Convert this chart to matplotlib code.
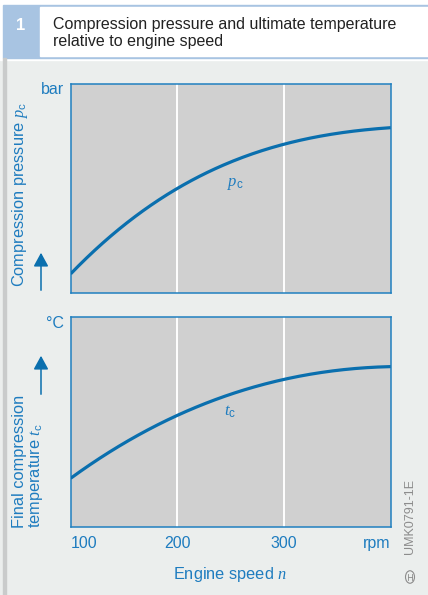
import matplotlib.pyplot as plt
import matplotlib.patches as mpatches
import numpy as np

plt.rcParams["font.family"] = ["Liberation Sans", "DejaVu Sans"]
plt.rcParams["mathtext.fontset"] = "custom"
plt.rcParams["mathtext.it"] = "Liberation Serif:italic"
plt.rcParams["mathtext.rm"] = "Liberation Sans"

# Data (relative scale 0..100, no numeric y ticks)
speed = [100, 146, 200, 252, 300, 349, 400]
pressure = [9.2, 31.1, 50.2, 62.9, 71.1, 76.7, 79.0]
temperature = [23.6, 37.4, 54.2, 63.7, 70.1, 74.4, 76.6]
x_ticks = [100, 200, 300, 400]
x_ticklabels = ["100", "200", "300", "rpm"]

W, H = 428, 595
BLUE = "#0a6fae"
TEXT = "#1e7cbf"
BG = "#ebeeed"
GREY = "#8c8c8c"


def px(x, y):
    # pixel (from top-left) to figure fraction
    return x / W, 1 - y / H


def smooth(x, y):
    xs = np.linspace(x[0], x[-1], 200)
    coef = np.polyfit(x, y, 3)
    return xs, np.polyval(coef, xs)


fig = plt.figure(figsize=(W / 100, H / 100), dpi=100, facecolor=BG)

# Header
fig.patches.append(mpatches.Rectangle(px(0, 60), W / W, 60 / H,
                                      transform=fig.transFigure, color="white", zorder=0))
fig.patches.append(mpatches.Rectangle(px(3, 57.5), 425 / W, 52.5 / H,
                                      transform=fig.transFigure, color="#a8c4e2", zorder=0))
fig.patches.append(mpatches.Rectangle(px(40, 55.5), 388 / W, 48.5 / H,
                                      transform=fig.transFigure, color="white", zorder=1))
fig.patches.append(mpatches.Rectangle(px(3.5, H), 2.5 / W, (H - 57.5) / H,
                                      transform=fig.transFigure, color="#c9cbcb", zorder=1))
fig.text(*px(21, 25), "1", color="white", fontsize=12, fontweight="bold",
         ha="center", va="center")
fig.text(*px(53, 17), "Compression pressure and ultimate temperature\nrelative to engine speed",
         color="#222222", fontsize=11.5, ha="left", va="top", linespacing=1.2)

panels = [
    (84, 293.3, pressure, r"$p_{\mathrm{c}}$", (235, 184), "bar"),
    (317.3, 526.7, temperature, r"$t_{\mathrm{c}}$", (230, 412), "°C"),
]

for top, bottom, values, name, lab_pos, unit in panels:
    l, b = px(70.7, bottom)
    ax = fig.add_axes([l, b, 320 / W, (bottom - top) / H])
    ax.set_facecolor("#d0d0d0")
    ax.set_xlim(100, 400)
    ax.set_ylim(0, 100)
    for v in (200, 300):
        ax.axvline(v, color="white", lw=1.4, zorder=1)
    xs, ys = smooth(speed, values)
    ax.plot(xs, ys, color=BLUE, lw=2.3, zorder=3, solid_capstyle="butt")
    for s in ax.spines.values():
        s.set_color("#2080c0")
        s.set_linewidth(1.1)
    ax.set_yticks([])
    ax.tick_params(axis="x", length=0, labelsize=11.5, labelcolor=TEXT, pad=7)
    if bottom > 400:
        ax.set_xticks(x_ticks)
        ax.set_xticklabels(x_ticklabels)
        lbls = ax.get_xticklabels()
        lbls[0].set_ha("left")
        lbls[-1].set_ha("right")
    else:
        ax.set_xticks([])
    fig.text(*px(*lab_pos), name, color=TEXT, fontsize=12, ha="center", va="center")
    fig.text(*px(64, top + 6), unit, color=TEXT, fontsize=11.5, ha="right", va="center")

# Y axis labels and arrows
fig.text(*px(20, 287), r"Compression pressure $p_{\mathrm{c}}$", color=TEXT, fontsize=11.8,
         rotation=90, ha="center", va="bottom")
fig.text(*px(29, 528), "Final compression\ntemperature $t_{\\mathrm{c}}$", color=TEXT,
         fontsize=11.8, rotation=90, ha="center", va="bottom", multialignment="left",
         linespacing=1.0)
for y0, y1 in [(293, 250), (397, 353)]:
    fig.patches.append(mpatches.FancyArrowPatch(px(41, y0), px(41, y1),
                                                transform=fig.transFigure,
                                                arrowstyle="-|>,head_length=5.5,head_width=3",
                                                color=BLUE, lw=1.1, mutation_scale=1.5))

fig.text(*px(230, 575), r"Engine speed $n$", color=TEXT, fontsize=11.8,
         ha="center", va="center")

# Watermark
fig.text(*px(410, 517), "UMK0791-1E", color=GREY, fontsize=9,
         rotation=90, ha="center", va="center")
cx, cy = px(410, 577)
fig.patches.append(mpatches.Circle((cx, cy), 4.5 / W, transform=fig.transFigure,
                                   fill=False, ec=GREY, lw=0.8))
for dx in (-1.7, 1.7):
    fig.add_artist(plt.Line2D([(410 + dx) / W] * 2, [cy - 3 / H, cy + 3 / H],
                              transform=fig.transFigure, color=GREY, lw=0.6))
fig.add_artist(plt.Line2D([408.3 / W, 411.7 / W], [cy, cy],
                          transform=fig.transFigure, color=GREY, lw=0.6))

fig.savefig("out.png", dpi=100, facecolor=BG)
